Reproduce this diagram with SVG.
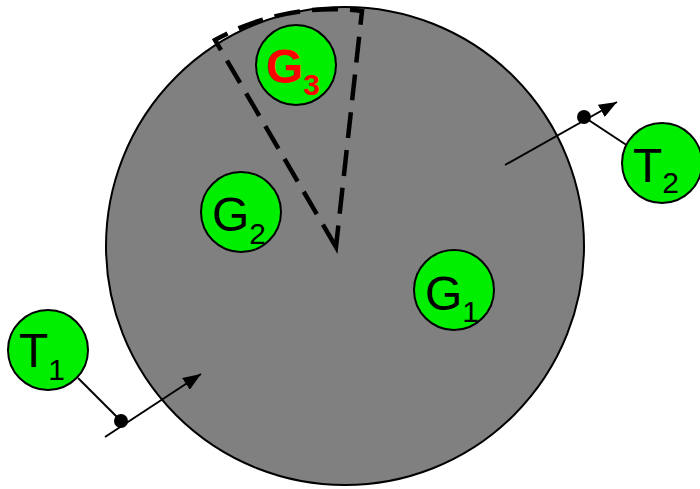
<svg xmlns="http://www.w3.org/2000/svg" width="700" height="489" viewBox="0 0 700 489">
<style>
.node{fill:#00ee00;stroke:#000;stroke-width:2}
.lbl{font-family:"Liberation Sans",Arial,sans-serif;font-size:48px;fill:#000}
.sub{font-size:30px}
.ln{stroke:#000;stroke-width:2;fill:none}
</style>
<defs>
<marker id="ah" viewBox="0 0 18 14" refX="18" refY="7" markerWidth="18" markerHeight="14" markerUnits="userSpaceOnUse" orient="auto">
<path d="M0,0 L18,7 L0,14 Z" fill="#000"/>
</marker>
</defs>
<g id="disk">
<circle cx="345" cy="246" r="239" fill="#808080" stroke="#000" stroke-width="2"/>
</g>
<g id="sector">
<path d="M336,247 L215,40 A240 240 0 0 1 362,11 Z" fill="none" stroke="#000" stroke-width="4.5" stroke-dasharray="26,12"/>
</g>
<g id="connectors">
<line class="ln" x1="105" y1="437" x2="201" y2="374" marker-end="url(#ah)"/>
<line class="ln" x1="78" y1="378" x2="121" y2="421"/>
<circle cx="121" cy="421" r="7" fill="#000"/>
<line class="ln" x1="505" y1="165" x2="617" y2="102" marker-end="url(#ah)"/>
<line class="ln" x1="584" y1="117" x2="628" y2="146"/>
<circle cx="584" cy="117" r="7" fill="#000"/>
</g>
<g id="G3">
<circle class="node" cx="296" cy="65" r="40"/>
<text class="lbl" x="266" y="83" style="fill:#ff0000;font-weight:bold">G<tspan class="sub" dy="12">3</tspan></text>
</g>
<g id="G2">
<circle class="node" cx="241" cy="212" r="40"/>
<text class="lbl" x="212" y="231">G<tspan class="sub" dy="13">2</tspan></text>
</g>
<g id="G1">
<circle class="node" cx="454" cy="290" r="40"/>
<text class="lbl" x="425" y="310">G<tspan class="sub" dy="12">1</tspan></text>
</g>
<g id="T2">
<circle class="node" cx="662" cy="163" r="40"/>
<text class="lbl" x="633" y="182">T<tspan class="sub" dy="11">2</tspan></text>
</g>
<g id="T1">
<circle class="node" cx="48" cy="350" r="40"/>
<text class="lbl" x="19" y="367">T<tspan class="sub" dy="13">1</tspan></text>
</g>
</svg>
